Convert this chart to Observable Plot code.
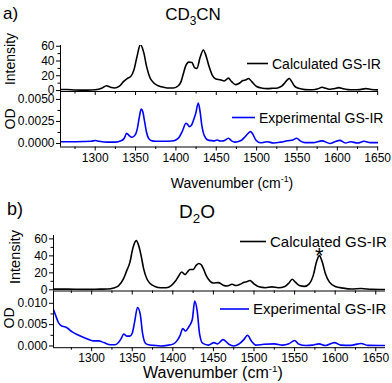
<!DOCTYPE html>
<html><head><meta charset="utf-8">
<script src="https://cdn.jsdelivr.net/npm/d3@7"></script>
<script src="https://cdn.jsdelivr.net/npm/@observablehq/plot@0.6"></script>
<style>
html,body{margin:0;padding:0;background:#fff;}
#fig{position:relative;width:392px;height:383px;overflow:hidden;font-family:Arial,"Liberation Sans",sans-serif;}
#fig svg{position:absolute;left:0;}
</style></head><body><div id="fig"></div>
<script>
// ---- data ----
const wnCalcA = [1257,1265,1275,1290,1300,1308,1314,1319,1324,1330,1335,1340,1344,1348,1352,1356,1360,1364,1368,1372,1377,1382,1389,1397,1403,1406,1409,1412,1416,1420,1423,1426,1430,1434,1437,1441,1445,1449,1455,1460,1465,1469,1474,1478,1483,1487,1490,1494,1500,1507,1513,1520,1526,1531,1535,1538,1540.5,1543,1547,1552,1560,1570,1576,1581,1586,1591,1596,1602,1607,1613,1620,1628,1635,1642,1651];
const intCalcA = [1.5,1.5,0.8,0.5,1,3,6.5,4.5,3.5,6,12,16.5,19,28,47,62.5,52,31,17,11,7,5,3.5,3.5,6.5,11,22,33,38.5,38,31,30,45,55,48,33,21,16,14.5,13,16.8,12,8,9.5,13.5,14.5,16.3,12,5.5,3.2,2.6,3,3.5,6,10.5,14.5,16.3,13,6,3,1.3,1,2.3,4.4,3,1.8,2.5,4,2.5,1.3,1,1.3,2.6,1.5,0.8];

const wnExpA = [1257,1270,1285,1295,1300,1305,1315,1325,1332,1336,1339,1342,1345,1349,1352,1354.5,1357,1359,1361,1363.5,1366,1369,1375,1385,1395,1400,1404,1408,1412.5,1415,1417,1419.5,1422,1424.5,1427.7,1430,1432,1434,1437,1441,1447,1451,1455,1459,1465,1469,1473,1480,1485,1489,1492.5,1495,1499,1505,1513,1521,1530,1538,1545,1549.5,1554,1560,1570,1581,1591,1597,1603,1610,1616.5,1625,1633,1641,1651];
const odExpA = [0.0002,0.0002,0.00022,0.00025,0.00034,0.00025,0.00015,0.00015,0.0003,0.0006,0.00115,0.0009,0.0007,0.0009,0.0016,0.0029,0.0039,0.0036,0.0026,0.0013,0.0006,0.00035,0.00025,0.00025,0.00028,0.0004,0.0007,0.0014,0.0023,0.0021,0.0019,0.0021,0.0027,0.0034,0.0046,0.0036,0.0021,0.0012,0.0006,0.00035,0.0003,0.0004,0.00028,0.0003,0.0006,0.0003,0.00015,0.0003,0.0007,0.0011,0.00135,0.0011,0.0004,0.00008,0.0002,0.00005,0.00015,0.0003,0.0004,0.0006,0.0003,0.0001,0.0001,0.0003,0.0,0.0002,0.00035,0.00005,0.0002,0.00005,0.00025,0.0001,0.0001];

const wnCalcB = [1253,1270,1290,1310,1320,1327,1333,1339,1343,1347,1351,1355,1358,1361,1364,1368,1372,1378,1385,1392,1398,1403,1407,1411,1415,1418,1421,1425,1429,1432,1435,1438,1441,1446,1450,1456,1462,1467,1473,1478,1484,1488,1491,1495,1500,1506,1514,1522,1530,1538,1543,1547,1551,1556,1562,1568,1573,1577,1580.5,1584,1588,1593,1600,1610,1620,1632,1645,1662];
const intCalcB = [0.8,0.8,0.5,0.8,1,2.2,4.7,12.5,22,32,50,58,52,40,25,13,7.5,4,2.5,2.5,5,10,16,21,18,21,24,24,29,31,29.5,24,17,10,8,8.5,5.5,4.5,6.5,5,7,9,9.5,11,7,3.5,2.5,3.5,2.5,4,8,12.5,9,5,4,7,17,33,40.3,33,19,9,4,2,1,1.5,0.5,0.3];

const wnExpB = [1253,1256,1259,1263,1267,1270,1276,1284,1294,1302,1308.5,1315,1323,1329,1333,1336.5,1339.5,1343.5,1347,1350,1352.7,1356.5,1359.8,1362.7,1366,1370,1376.5,1385,1393,1401,1405,1409,1412.3,1415.6,1419.7,1424,1427,1430,1433,1437,1444,1450.5,1455,1462,1469,1475,1481,1487.5,1492,1497,1502,1512,1525,1535,1543,1550,1555.5,1564,1572,1580,1588,1599,1607,1619,1632,1640,1662];
const odExpB = [0.0085,0.0070,0.0055,0.0047,0.0045,0.0042,0.0033,0.0025,0.0017,0.0012,0.0012,0.0008,0.0003,0.0003,0.0008,0.0018,0.0028,0.0023,0.0023,0.0030,0.0054,0.0090,0.0075,0.0030,0.0007,0.0003,0.00015,0.0,0.00015,0.0005,0.0012,0.0025,0.0041,0.0035,0.0045,0.0062,0.0105,0.0082,0.0028,0.0006,0.0002,0.0008,0.0005,0.0015,0.0004,0.0,0.0004,0.0015,0.0025,0.0011,0.0002,0.0004,0.0005,0.0002,0.0005,0.0013,0.0004,0.0001,0.0002,0.0005,0.0001,0.0008,0.0002,0.00015,0.0006,0.00015,0.0001];

const xTicksMajor = [1300,1350,1400,1450,1500,1550,1600,1650];
const xTicksMinor = [1275,1325,1375,1425,1475,1525,1575,1625];
const yTicksCalc = [0,20,40,60];
const yMinorCalc = [10,30,50];
const yTicksExpA = [0,0.0025,0.005];
const yMinorExpA = [0.00125,0.00375];
const yTicksExpB = [0,0.005,0.01];
const yMinorExpB = [0.0025,0.0075];
const starWn = [1580.5];
const starY = [46];

// ---- drawing ----
const fig = document.getElementById("fig");
const FONT = "Arial, 'Liberation Sans', sans-serif";

function panel(o) {
  const data = o.wn.map((w, i) => ({w, v: o.vals[i]}));
  const none = () => "";
  const marks = [
    Plot.line(data, {x: "w", y: "v", stroke: o.color, strokeWidth: 1.6, curve: "monotone-x", clip: true}),
    Plot.ruleX([o.xDomain[0]], {stroke: "black", strokeWidth: 1}),
    Plot.ruleY([o.yDomain[0]], {stroke: "black", strokeWidth: 1}),
    Plot.axisY({ticks: o.yTicks, tickSize: 4, tickPadding: 2, tickFormat: o.yFmt, fontSize: 12, label: null}),
    Plot.axisY({ticks: o.yMinor, tickSize: 2.5, tickFormat: none, label: null}),
    Plot.axisX({ticks: xTicksMajor, tickSize: 4, tickPadding: 2, tickFormat: o.xLabels ? d3.format("d") : none, fontSize: 12, label: null}),
    Plot.axisX({ticks: xTicksMinor, tickSize: 2.5, tickFormat: none, label: null}),
    ...(o.extra || [])
  ];
  const svg = Plot.plot({
    width: 392, height: o.height,
    marginTop: o.mt, marginBottom: o.mb, marginLeft: o.ml, marginRight: o.mr,
    x: {domain: o.xDomain}, y: {domain: o.yDomain},
    style: {overflow: "visible", background: "transparent", fontFamily: FONT, color: "black"},
    marks
  });
  svg.style.top = o.top + "px";
  fig.append(svg);
}

panel({top: 0, height: 91, mt: 45, mb: 0, ml: 60, mr: 14, xDomain: [1257, 1651], yDomain: [-1.3, 61],
  wn: wnCalcA, vals: intCalcA, color: "black", yTicks: yTicksCalc, yMinor: yMinorCalc, yFmt: d3.format("d"), xLabels: false});
panel({top: 91, height: 104, mt: 0, mb: 48.5, ml: 60, mr: 14, xDomain: [1257, 1651], yDomain: [-0.0004, 0.0059],
  wn: wnExpA, vals: odExpA, color: "#0000ff", yTicks: yTicksExpA, yMinor: yMinorExpA, yFmt: d3.format(".4f"), xLabels: true});
panel({top: 190, height: 100.5, mt: 45, mb: 0, ml: 53, mr: 7, xDomain: [1253, 1662], yDomain: [-1.4, 64],
  wn: wnCalcB, vals: intCalcB, color: "black", yTicks: yTicksCalc, yMinor: yMinorCalc, yFmt: d3.format("d"), xLabels: false,
  extra: [Plot.text(starWn.map((w, i) => ({w, v: starY[i]})), {x: "w", y: "v", text: () => "*", fontSize: 22, dy: 5, fill: "black"})]});
panel({top: 290.5, height: 92.5, mt: 0, mb: 36.3, ml: 53, mr: 7, xDomain: [1253, 1662], yDomain: [-0.0004, 0.01276],
  wn: wnExpB, vals: odExpB, color: "#0000ff", yTicks: yTicksExpB, yMinor: yMinorExpB, yFmt: d3.format(".3f"), xLabels: true});

// ---- overlay texts & legends ----
const ov = d3.select(fig).append("svg").attr("width", 392).attr("height", 383)
  .style("top", "0px").style("font-family", FONT).style("pointer-events", "none");

function txt(x, y, s, size, anchor = "start") {
  return ov.append("text").attr("x", x).attr("y", y).attr("font-size", size).attr("text-anchor", anchor).text(s);
}
function vtxt(x, y, s, size) {
  return ov.append("text").attr("transform", `translate(${x},${y}) rotate(-90)`).attr("font-size", size).attr("text-anchor", "middle").text(s);
}
function sub(x, y, a, b, c, size, anchor) {
  const t = ov.append("text").attr("x", x).attr("y", y).attr("font-size", size).attr("text-anchor", anchor);
  t.append("tspan").text(a);
  t.append("tspan").attr("dy", size * 0.28).attr("font-size", size * 0.7).text(b);
  t.append("tspan").attr("dy", -size * 0.28).text(c);
}
function wavelabel(x, y, size) {
  const t = ov.append("text").attr("x", x).attr("y", y).attr("font-size", size).attr("text-anchor", "middle");
  t.append("tspan").text("Wavenumber (cm");
  t.append("tspan").attr("dy", -size * 0.4).attr("font-size", size * 0.62).text("-1");
  t.append("tspan").attr("dy", size * 0.4).text(")");
}
function leg(x1, x2, y, color, label, size) {
  ov.append("line").attr("x1", x1).attr("x2", x2).attr("y1", y).attr("y2", y).attr("stroke", color).attr("stroke-width", 1.6);
  txt(x2 + 4, y + size * 0.36, label, size);
}

txt(3, 19, "a)", 17);
sub(193, 20, "CD", "3", "CN", 17, "middle");
leg(247, 268, 63.5, "black", "Calculated GS-IR", 14);
leg(232, 255, 117.5, "#0000ff", "Experimental GS-IR", 14);
vtxt(14.5, 59, "Intensity", 14);
vtxt(15, 119, "OD", 14);
wavelabel(232, 188, 14);

txt(7, 215, "b)", 18);
sub(197, 218, "D", "2", "O", 19, "middle");
leg(240, 266, 241.5, "black", "Calculated GS-IR", 15);
leg(220, 249, 309, "#0000ff", "Experimental GS-IR", 15);
vtxt(19.5, 257, "Intensity", 14.5);
vtxt(13.5, 318, "OD", 14);
wavelabel(213, 378, 16);
</script></body></html>
